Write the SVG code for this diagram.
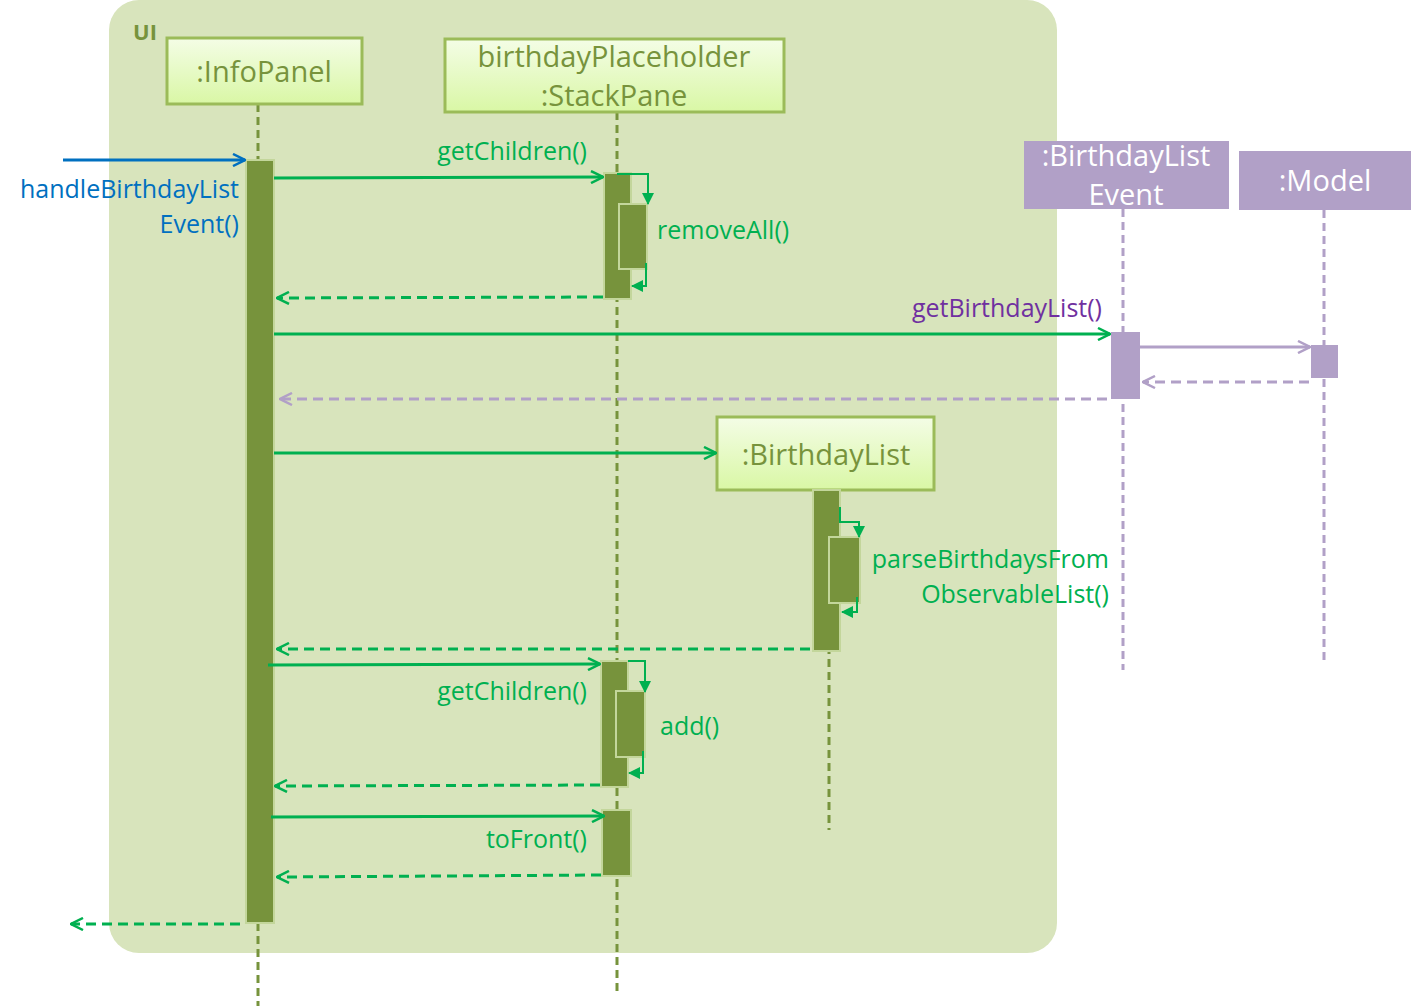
<svg xmlns="http://www.w3.org/2000/svg" width="1411" height="1006" viewBox="0 0 1411 1006">
<style>
text{font-family:"Open Sans","Noto Sans","Liberation Sans",sans-serif;font-size:25px}
.lbl{fill:#00b050}
.box{stroke:#9bbb59;stroke-width:3;fill:url(#g)}
.bt{fill:#77933c;font-size:29px}
.pbox{fill:#b1a0c7}
.pt{fill:#ffffff;font-size:29px}
.ll{stroke:#77933c;stroke-width:3;stroke-dasharray:8,5;fill:none}
.pll{stroke:#b1a0c7;stroke-width:3;stroke-dasharray:8,5;fill:none}
.act{fill:#77933c;stroke:#c3d69b;stroke-width:2}
.pact{fill:#b1a0c7}
.m{stroke:#00b050;stroke-width:3;fill:none}
.r{stroke:#00b050;stroke-width:3;stroke-dasharray:10,6;fill:none}
.s{stroke:#00b050;stroke-width:2;fill:none}
.pm{stroke:#b1a0c7;stroke-width:3;fill:none}
.pr{stroke:#b1a0c7;stroke-width:3;stroke-dasharray:10,6;fill:none}
</style>
<defs>
<linearGradient id="g" x1="0" y1="0" x2="0" y2="1">
<stop offset="0" stop-color="#f4fde6"/>
<stop offset="1" stop-color="#d9f7a5"/>
</linearGradient>
<marker id="oa" viewBox="0 0 14 14" refX="13" refY="7" markerWidth="14" markerHeight="14" markerUnits="userSpaceOnUse" orient="auto">
<path d="M1,1 L13,7 L1,13" fill="none" stroke="#00b050" stroke-width="2.5"/>
</marker>
<marker id="ob" viewBox="0 0 14 14" refX="13" refY="7" markerWidth="14" markerHeight="14" markerUnits="userSpaceOnUse" orient="auto">
<path d="M1,1 L13,7 L1,13" fill="none" stroke="#0070c0" stroke-width="2.5"/>
</marker>
<marker id="op" viewBox="0 0 14 14" refX="13" refY="7" markerWidth="14" markerHeight="14" markerUnits="userSpaceOnUse" orient="auto">
<path d="M1,1 L13,7 L1,13" fill="none" stroke="#b1a0c7" stroke-width="2.5"/>
</marker>
<marker id="fa" viewBox="0 0 12 12" refX="11" refY="6" markerWidth="12" markerHeight="12" markerUnits="userSpaceOnUse" orient="auto">
<path d="M0,0 L12,6 L0,12 Z" fill="#00b050"/>
</marker>
</defs>

<g id="ui-frame">
<rect x="109" y="0" width="948" height="953" rx="30" ry="30" fill="#d8e4bc"/>
<text x="133" y="40" style="font-size:22px;font-weight:bold;fill:#77933c">UI</text>
</g>

<g id="lifelines">
<line class="ll" x1="258" y1="104" x2="258" y2="1006"/>
<line class="ll" x1="617" y1="112" x2="617" y2="995"/>
<line class="ll" x1="829" y1="490" x2="829" y2="830"/>
<line class="pll" x1="1123" y1="209" x2="1123" y2="670"/>
<line class="pll" x1="1324" y1="210" x2="1324" y2="665"/>
</g>

<g id="infopanel">
<rect class="box" x="167" y="38" width="195" height="66"/>
<text class="bt" x="264" y="82" text-anchor="middle">:InfoPanel</text>
</g>
<g id="stackpane">
<rect class="box" x="445" y="39" width="339" height="73"/>
<text class="bt" x="614" y="67" text-anchor="middle">birthdayPlaceholder</text>
<text class="bt" x="614" y="106" text-anchor="middle">:StackPane</text>
</g>
<g id="birthdaylistevent">
<rect class="pbox" x="1024" y="141" width="205" height="68"/>
<text class="pt" x="1126" y="166" text-anchor="middle">:BirthdayList</text>
<text class="pt" x="1126" y="205" text-anchor="middle">Event</text>
</g>
<g id="model">
<rect class="pbox" x="1239" y="151" width="172" height="59"/>
<text class="pt" x="1325" y="191" text-anchor="middle">:Model</text>
</g>
<g id="birthdaylist">
<rect class="box" x="717" y="417" width="217" height="73"/>
<text class="bt" x="826" y="465" text-anchor="middle">:BirthdayList</text>
</g>

<g id="activations">
<rect class="act" x="246" y="160" width="28" height="763"/>
<rect class="act" x="604" y="173" width="27" height="126"/>
<rect class="act" x="619" y="204" width="28" height="65"/>
<rect class="pact" x="1111" y="332" width="29" height="67"/>
<rect class="pact" x="1311" y="345" width="27" height="33"/>
<rect class="act" x="813" y="490" width="27" height="161"/>
<rect class="act" x="829" y="537" width="31" height="66"/>
<rect class="act" x="601" y="661" width="27" height="126"/>
<rect class="act" x="616" y="691" width="29" height="66"/>
<rect class="act" x="602" y="810" width="29" height="66"/>
</g>

<g id="connectors">
<line x1="63" y1="160" x2="245" y2="160" stroke="#0070c0" stroke-width="3" marker-end="url(#ob)"/>
<line class="m" x1="274" y1="178" x2="603" y2="177" marker-end="url(#oa)"/>
<polyline class="s" points="617,174 648,174 648,204" marker-end="url(#fa)"/>
<polyline class="s" points="646,263 646,286 632,286" marker-end="url(#fa)"/>
<line class="r" x1="603" y1="297" x2="277" y2="298" marker-end="url(#oa)"/>
<line class="m" x1="274" y1="334" x2="1110" y2="334" marker-end="url(#oa)"/>
<line class="pm" x1="1140" y1="347" x2="1310" y2="347" marker-end="url(#op)"/>
<line class="pr" x1="1309" y1="382" x2="1143" y2="382" marker-end="url(#op)"/>
<line class="pr" x1="1107" y1="399" x2="280" y2="399" marker-end="url(#op)"/>
<line class="m" x1="274" y1="453" x2="716" y2="453" marker-end="url(#oa)"/>
<polyline class="s" points="840,507 840,522 859,522 859,537" marker-end="url(#fa)"/>
<polyline class="s" points="857,597 857,612 842,612" marker-end="url(#fa)"/>
<line class="r" x1="810" y1="649" x2="277" y2="649" marker-end="url(#oa)"/>
<line class="m" x1="268" y1="665" x2="600" y2="664" marker-end="url(#oa)"/>
<polyline class="s" points="628,661 645,661 645,692" marker-end="url(#fa)"/>
<polyline class="s" points="643,751 643,773 629,773" marker-end="url(#fa)"/>
<line class="r" x1="600" y1="785" x2="275" y2="786" marker-end="url(#oa)"/>
<line class="m" x1="271" y1="817" x2="604" y2="816" marker-end="url(#oa)"/>
<line class="r" x1="601" y1="875" x2="277" y2="877" marker-end="url(#oa)"/>
<line class="r" x1="240" y1="924" x2="71" y2="924" marker-end="url(#oa)"/>
</g>

<g id="labels">
<text x="239" y="198" text-anchor="end" fill="#0070c0">handleBirthdayList</text>
<text x="239" y="233" text-anchor="end" fill="#0070c0">Event()</text>
<text class="lbl" x="587" y="160" text-anchor="end">getChildren()</text>
<text class="lbl" x="657" y="239">removeAll()</text>
<text x="1102" y="317" text-anchor="end" fill="#7030a0">getBirthdayList()</text>
<text class="lbl" x="1109" y="568" text-anchor="end">parseBirthdaysFrom</text>
<text class="lbl" x="1109" y="603" text-anchor="end">ObservableList()</text>
<text class="lbl" x="587" y="700" text-anchor="end">getChildren()</text>
<text class="lbl" x="660" y="735">add()</text>
<text class="lbl" x="587" y="848" text-anchor="end">toFront()</text>
</g>
</svg>
